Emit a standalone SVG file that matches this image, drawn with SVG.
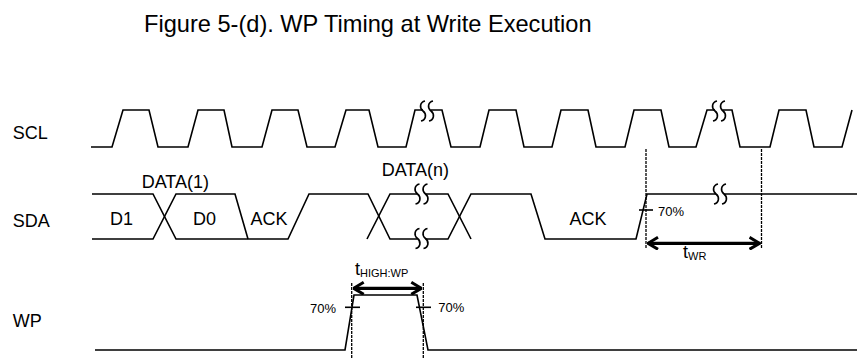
<svg xmlns="http://www.w3.org/2000/svg" width="857" height="359" viewBox="0 0 857 359">
<defs>
<style>
text{font-family:"Liberation Sans",Arial,sans-serif;fill:#000}
.lbl{font-size:18px}
.ttl{font-size:23.6px}
.sm{font-size:13px}
.sub{font-size:11px}
.wave{fill:none;stroke:#000;stroke-width:1.6;stroke-linejoin:miter}
.dash{fill:none;stroke:#000;stroke-width:1.3;stroke-dasharray:3 1}
.arr{fill:none;stroke:#000;stroke-width:3.2}
.tick{stroke:#000;stroke-width:1.6}
.brk{fill:none;stroke:#000;stroke-width:1.6}
</style>
<marker id="ah" viewBox="0 0 12 14" refX="11" refY="7" markerWidth="12" markerHeight="14" markerUnits="userSpaceOnUse" orient="auto-start-reverse">
<path d="M1,1 L11,7 L1,13" fill="none" stroke="#000" stroke-width="3"/>
</marker>
<g id="brkmark">
<rect x="-4" y="-3" width="8" height="6" fill="#fff"/>
<path class="brk" d="M-2,-10 C-7,-9 -8,-3 -4,0 C0,3 -1,9 -6,10"/>
<path class="brk" d="M6,-10 C1,-9 0,-3 4,0 C8,3 7,9 2,10"/>
</g>
</defs>
<rect width="857" height="359" fill="#fff"/>
<g id="title"><text class="ttl" x="144" y="32">Figure 5-(d). WP Timing at Write Execution</text></g>
<g id="labels">
<text class="lbl" x="12.7" y="139.3">SCL</text>
<text class="lbl" x="12.7" y="227.3">SDA</text>
<text class="lbl" x="12.7" y="326.7">WP</text>
</g>
<g id="scl">
<path class="wave" d="M91,147 H112 L123,110 H149 L158,147 H188 L198,110 H224 L232,147 H262 L272,110 H298 L307,147 H335 L346,110 H369 L378,147 H406 L415,110 H442 L451,147 H480 L489,110 H516 L524,147 H552 L561,110 H588 L596,147 H625 L634,110 H661 L669,147 H696 L707,110 H732 L740,147 H770 L779,110 H806 L814,147 H842 L852,110"/>
<use href="#brkmark" x="427" y="111"/>
<use href="#brkmark" x="719" y="111"/>
</g>
<g id="sda">
<path class="wave" d="M92,194 H153 L176,239 H288 L309,194 H368 L390,239 H448 L471,194 H531 L545,239 H636 L647,194 H857"/>
<path class="wave" d="M92,239 H153 L176,194 H235 L248,239 M367,239 L390,194 H448 L471,239"/>
<use href="#brkmark" x="421.5" y="194"/>
<use href="#brkmark" x="421.5" y="238.5"/>
<use href="#brkmark" x="720" y="194"/>
<text class="lbl" x="110" y="225">D1</text>
<text class="lbl" x="193" y="225">D0</text>
<text class="lbl" x="250.5" y="225">ACK</text>
<text class="lbl" x="569.5" y="225">ACK</text>
<text class="lbl" x="141.7" y="188.3">DATA(1)</text>
<text class="lbl" x="381.7" y="176">DATA(n)</text>
<line class="tick" x1="639" y1="210" x2="653" y2="210"/>
<text class="sm" x="658" y="216">70%</text>
</g>
<g id="wp">
<path class="wave" d="M95,350 H345 L354,295 H417 L428,350 H857"/>
<line class="tick" x1="345" y1="307.3" x2="360" y2="307.3"/>
<line class="tick" x1="416" y1="307.3" x2="431" y2="307.3"/>
<text class="sm" x="310" y="312.7">70%</text>
<text class="sm" x="438.3" y="312">70%</text>
</g>
<g id="connectors">
<line class="dash" x1="646" y1="149" x2="646" y2="248"/>
<line class="dash" x1="761.5" y1="149" x2="761.5" y2="248"/>
<line class="dash" x1="351.7" y1="283" x2="351.7" y2="359"/>
<line class="dash" x1="423.3" y1="283" x2="423.3" y2="359"/>
<line class="arr" x1="648" y1="243.3" x2="759.5" y2="243.3" marker-start="url(#ah)" marker-end="url(#ah)"/>
<line class="arr" x1="353.7" y1="288.3" x2="421.3" y2="288.3" marker-start="url(#ah)" marker-end="url(#ah)"/>
</g>
<g id="timing-labels">
<text class="lbl" x="683" y="258">t<tspan class="sub" dy="2">WR</tspan></text>
<text class="lbl" x="355" y="275">t<tspan class="sub" dy="2">HIGH:WP</tspan></text>
</g>
</svg>
